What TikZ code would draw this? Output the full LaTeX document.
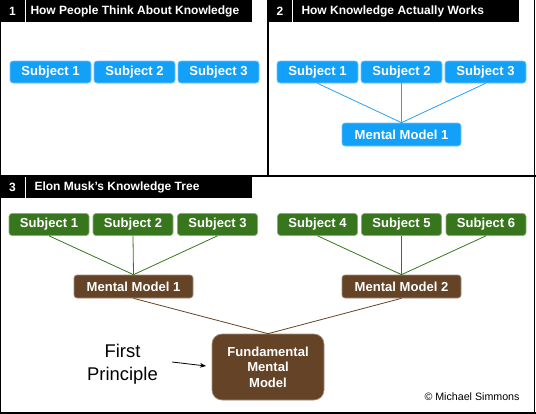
\documentclass[tikz,border=0pt]{standalone}
\usepackage{fontspec}
\setmainfont{Liberation Sans}
\usetikzlibrary{arrows.meta}

\definecolor{subjblue}{RGB}{18,160,248}
\definecolor{linkblue}{RGB}{40,160,240}
\definecolor{leafgreen}{RGB}{56,118,29}
\definecolor{barkbrown}{RGB}{101,67,39}

\tikzset{every picture/.style={line width=0.75pt}}
\tikzset{
  boxtext/.style={font=\bfseries\fontsize{9.8}{11.6}\selectfont, text=white, inner sep=0pt, rounded corners=2.25pt, line width=0.5pt},
  bluesubj/.style={boxtext, fill=subjblue, draw=subjblue!60!white, minimum width=60.75pt, minimum height=16.5pt},
  bluemodel/.style={boxtext, fill=subjblue, draw=subjblue!60!white, minimum width=89.25pt, minimum height=17.25pt},
  greensubj/.style={boxtext, fill=leafgreen, draw=leafgreen!60!white, minimum width=60pt, minimum height=16.5pt},
  brownmodel/.style={boxtext, fill=barkbrown, draw=barkbrown!60!white, minimum width=89.25pt, minimum height=17.25pt},
  headbar/.style={fill=black, draw=none},
  headtext/.style={font=\bfseries\fontsize{9}{11}\selectfont, text=white, inner sep=0pt},
  frameline/.style={line width=1.1pt},
}

\begin{document}
\begin{tikzpicture}[x=0.75pt,y=0.75pt,yscale=-1,xscale=1]
	\useasboundingbox (0,0) rectangle (536,414);
	
	%Frame
	\draw [frameline]  (0.6,0) -- (0.6,413.2) -- (536,413.2) ;
	\draw [frameline]  (534.7,0) -- (534.7,414) ;
	\draw [frameline]  (267.8,0) -- (267.8,176.5) ;
	\draw [line width=0.9pt]  (0,176) -- (536,176) ;
	
	%Header bars
	\fill [headbar]  (0,0) rectangle (252,21.7) ;
	\fill [headbar]  (268,0) rectangle (519,21.7) ;
	\fill [headbar]  (0,177) rectangle (252,198) ;
	\draw [white, line width=0.9pt]  (25.5,0) -- (25.5,21.7) ;
	\draw [white, line width=0.9pt]  (292.5,0) -- (292.5,21.7) ;
	\draw [white, line width=0.9pt]  (25.5,177) -- (25.5,198) ;
	
	\node [headtext] (n1) at (12.5,11) {1};
	\node [headtext, anchor=west] (h1) at (30,11) {How People Think About Knowledge};
	\node [headtext] (n2) at (280,11) {2};
	\node [headtext, anchor=west] (h2) at (301,11) {How Knowledge Actually Works};
	\node [headtext] (n3) at (12.5,187.5) {3};
	\node [headtext, anchor=west] (h3) at (34,187.5) {Elon Musk’s Knowledge Tree};
	
	%Panel 1
	\node [bluesubj] (p1s1) at (50.5,72) {Subject 1};
	\node [bluesubj] (p1s2) at (134.5,72) {Subject 2};
	\node [bluesubj] (p1s3) at (218.5,72) {Subject 3};
	
	%Panel 2
	\node [bluesubj] (p2s1) at (317.5,72) {Subject 1};
	\node [bluesubj] (p2s2) at (401.5,72) {Subject 2};
	\node [bluesubj] (p2s3) at (485.5,72) {Subject 3};
	\node [bluemodel] (p2m1) at (401.5,134.5) {Mental Model 1};
	\draw [linkblue, line width=0.6pt]  (p2s1.south) -- (p2m1.north) ;
	\draw [linkblue, line width=0.6pt]  (p2s2.south) -- (p2m1.north) ;
	\draw [linkblue, line width=0.6pt]  (p2s3.south) -- (p2m1.north) ;
	
	%Panel 3
	\node [greensubj] (p3s1) at (49,224.5) {Subject 1};
	\node [greensubj] (p3s2) at (133,224.5) {Subject 2};
	\node [greensubj] (p3s3) at (217.5,224.5) {Subject 3};
	\node [greensubj] (p3s4) at (317.5,224.5) {Subject 4};
	\node [greensubj] (p3s5) at (401.5,224.5) {Subject 5};
	\node [greensubj] (p3s6) at (486,224.5) {Subject 6};
	\node [brownmodel] (p3m1) at (133.5,286.5) {Mental Model 1};
	\node [brownmodel] (p3m2) at (401.5,286.5) {Mental Model 2};
	\node [boxtext, fill=barkbrown, draw=barkbrown!60!white, rounded corners=7.5pt, minimum width=84pt, minimum height=49.5pt, align=center, font=\bfseries\fontsize{9.8}{11.6}\selectfont] (fund) at (268,367) {Fundamental\\Mental\\Model};
	
	\draw [leafgreen, line width=0.6pt]  (p3s1.south) -- (p3m1.north) ;
	\draw [leafgreen, line width=0.6pt]  (p3s2.south) -- (p3m1.north) ;
	\draw [leafgreen, line width=0.6pt]  (p3s3.south) -- (p3m1.north) ;
	\draw [leafgreen, line width=0.6pt]  (p3s4.south) -- (p3m2.north) ;
	\draw [leafgreen, line width=0.6pt]  (p3s5.south) -- (p3m2.north) ;
	\draw [leafgreen, line width=0.6pt]  (p3s6.south) -- (p3m2.north) ;
	\draw [barkbrown, line width=0.6pt]  (p3m1.south) -- (fund.north) ;
	\draw [barkbrown, line width=0.6pt]  (p3m2.south) -- (fund.north) ;
	
	\node [align=center, inner sep=0pt, font=\fontsize{13.8}{17.2}\selectfont] (fp) at (122.5,364.5) {First\\Principle};
	\coordinate (fptail) at (172,362);
	\coordinate (fphead) at (206,366);
	\draw [-{Stealth[length=4.5pt,width=3.5pt]}, line width=0.6pt]  (fptail) -- (fphead) ;
	
	\node [anchor=east, inner sep=0pt, font=\fontsize{8}{10}\selectfont] (copy) at (520,397) {© Michael Simmons};
\end{tikzpicture}
\end{document}
